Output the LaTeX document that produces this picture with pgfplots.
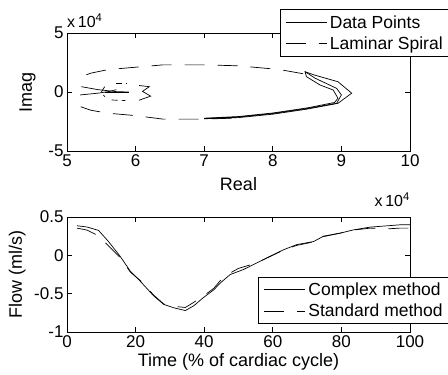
\documentclass[border=0pt]{standalone}
\usepackage{fontspec}
\setmainfont{Liberation Sans}
\usepackage{pgfplots}
\pgfplotsset{compat=1.18}
\begin{document}
\begin{tikzpicture}
\path[use as bounding box] (0bp,0bp) rectangle (448bp,375bp);
\pgfplotsset{
  mstyle/.style={
    scale only axis, width=343bp,
    axis line style={line width=0.9bp, black},
    tick align=inside, major tick length=5bp,
    tick style={line width=0.8bp, black},
    /pgf/number format/assume math mode=true,
    ticklabel style={font=\fontsize{17bp}{20bp}\selectfont},
    label style={font=\fontsize{18bp}{21bp}\selectfont},
    scaled ticks=false,
    legend cell align=left,
    legend style={draw=black, line width=0.9bp, font=\fontsize{17.5bp}{20bp}\selectfont,
      inner xsep=5bp, inner ysep=3bp, row sep=2bp,
      nodes={inner xsep=3bp, inner ysep=2.5bp}},
    legend image code/.code={\draw[#1] (0bp,0bp) -- (41bp,0bp);},
  },
  sol/.style={black, line width=0.7bp, mark=none},
  das/.style={black, line width=0.7bp, mark=none, dash pattern=on 20bp off 13bp},
}
% ---------------- top axis ----------------
\begin{axis}[mstyle, at={(67bp,224bp)}, anchor=south west, height=118bp,
  xmin=5, xmax=10, ymin=-5, ymax=5,
  xtick={5,6,7,8,9,10}, ytick={-5,0,5},
  xlabel={Real}, ylabel={Imag},
  xlabel style={at={(axis description cs:0.5,-0.28)}, anchor=center},
  ylabel style={at={(axis description cs:-0.115,0.5)}, anchor=center},
  legend style={at={(1.12,1.2)}, anchor=north east},
]
% Data Points (solid), units of 1e4
\addplot[sol] coordinates {
(7.0,-2.27) (7.5,-2.17) (8.0,-1.88) (8.5,-1.45) (8.95,-0.96) (9.15,-0.1)
(8.95,0.87) (8.6,1.45) (8.47,1.72) (8.49,1.3) (8.69,0.59) (8.88,0.17)
(8.95,-0.53) (8.9,-0.89) (8.5,-1.35) (8.0,-1.78) (7.5,-2.08) (7.0,-2.22)};
\addlegendentry{Data Points}
\addplot[das] coordinates {
(8.44,1.55) (8.1,1.9) (7.5,2.22) (7.0,2.3) (6.4,2.3) (6.0,2.1) (5.6,1.9) (5.35,1.6) (5.2,1.3)};
\addlegendentry{Laminar Spiral}
\addplot[sol, forget plot] coordinates {
(8.47,1.72) (8.62,1.16) (8.93,0.31) (9.0,-0.25) (8.93,-0.96) (8.5,-1.4) (8.0,-1.82) (7.5,-2.12) (7.0,-2.25)};
\addplot[sol, forget plot] coordinates {
(5.21,0.45) (5.45,0.2) (5.72,0.03) (5.9,0.0)};
\addplot[sol, forget plot] coordinates {
(5.19,-0.25) (5.45,-0.1) (5.62,0.05) (5.72,0.2)};
\addplot[sol, forget plot] coordinates {
(5.55,0.0) (5.9,0.0)};
\addplot[das, forget plot] coordinates {
(5.2,-1.25) (5.35,-1.55) (5.6,-1.8) (6.0,-2.0) (6.4,-2.3) (7.0,-2.3) (7.5,-2.2)};
\addplot[black, line width=0.7bp, forget plot] coordinates {
(6.05,0.55) (6.2,0.45) (6.1,0.05) (6.22,-0.35) (6.05,-0.7)};
\addplot[black, line width=0.7bp, forget plot, dash pattern=on 6bp off 4bp] coordinates {
(5.72,0.75) (5.87,0.75)};
\addplot[black, line width=0.7bp, forget plot, dash pattern=on 6bp off 4bp] coordinates {
(5.65,-0.68) (5.85,-0.72)};
\addplot[black, line width=0.7bp, forget plot, dash pattern=on 6bp off 4bp] coordinates {
(5.55,0.45) (5.5,0.0) (5.55,-0.4)};
\end{axis}
\node[anchor=base west, font=\fontsize{16bp}{19bp}\selectfont, inner sep=0pt] at (67bp,347bp) {x\,10\textsuperscript{4}};
\node[anchor=base east, font=\fontsize{16bp}{19bp}\selectfont, inner sep=0pt] at (410bp,168bp) {x\,10\textsuperscript{4}};
% ---------------- bottom axis ----------------
\begin{axis}[mstyle, at={(67bp,43bp)}, anchor=south west, height=115bp,
  xmin=0, xmax=100, ymin=-1, ymax=0.5,
  xtick={0,20,40,60,80,100}, ytick={-1,-0.5,0,0.5},
  xlabel={Time (\% of cardiac cycle)}, ylabel={Flow (ml/s)},
  xlabel style={at={(axis description cs:0.5,-0.26)}, anchor=center},
  ylabel style={at={(axis description cs:-0.145,0.5)}, anchor=center},
  legend style={at={(1.12,0.07)}, anchor=south east},
]
\addplot[sol] coordinates {
(2.9,0.386) (5.8,0.37) (9.2,0.325) (12.1,0.18) (15.5,-0.013) (18.5,-0.21)
(21.4,-0.34) (25.3,-0.53) (28.2,-0.64) (31.1,-0.684) (34.5,-0.72) (36.9,-0.66)
(39.8,-0.55) (42.8,-0.45) (44.7,-0.36) (47.6,-0.25) (51.4,-0.186) (55.3,-0.10)
(59.2,-0.013) (63.2,0.074) (67,0.14) (71.9,0.18) (74.8,0.25) (79.7,0.29)
(83.6,0.333) (88.4,0.368) (93.3,0.385) (97,0.398) (100,0.398)};
\addlegendentry{Complex method}
\addplot[das] coordinates {
(2.9,0.355) (5.8,0.33) (9.2,0.255) (12.6,0.10) (15.5,-0.03) (18.5,-0.22)
(21.4,-0.33) (25.3,-0.52) (28.2,-0.635) (31.1,-0.665) (34.5,-0.68) (36,-0.64)
(39.8,-0.53) (42.8,-0.43) (44.7,-0.33) (47.6,-0.23) (50,-0.17) (55.3,-0.10)
(59.2,-0.015) (63.2,0.07) (67,0.13) (71.9,0.175) (74.8,0.245) (79.7,0.29)
(83.6,0.33) (88.4,0.355) (93.3,0.345) (97,0.355) (100,0.355)};
\addlegendentry{Standard method}
\end{axis}
\end{tikzpicture}
\end{document}
